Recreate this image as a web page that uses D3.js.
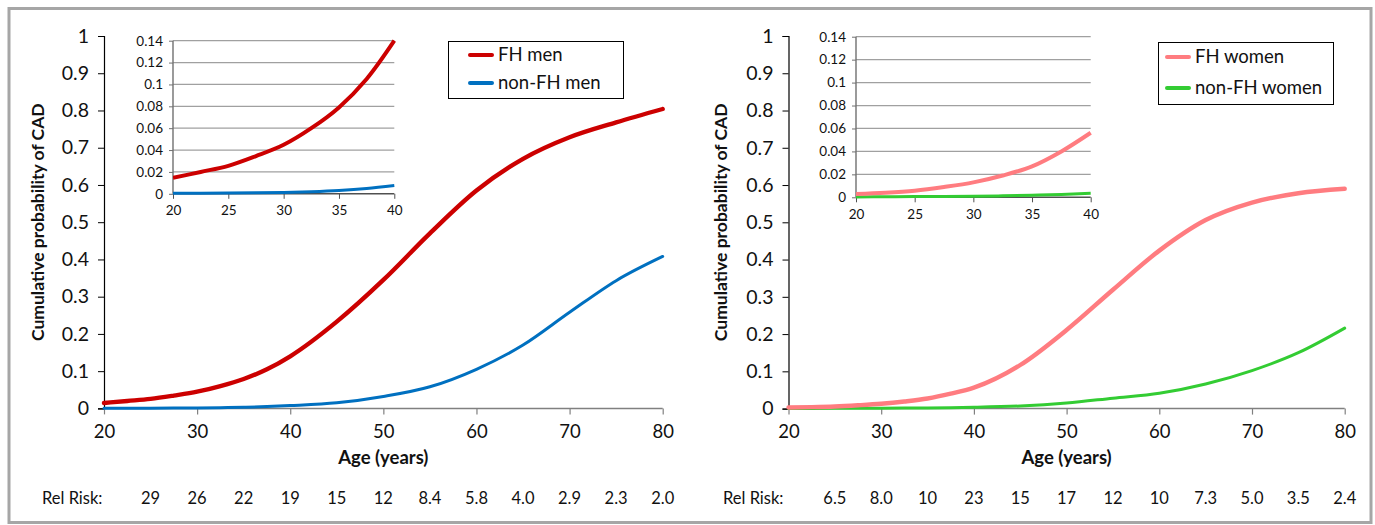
<!DOCTYPE html>
<html>
<head>
<meta charset="utf-8">
<script src="https://cdn.jsdelivr.net/npm/d3@7/dist/d3.min.js"></script>
<style>
  html, body { margin: 0; padding: 0; background: #fff; }
  svg { display: block; font-family: Lato, "Noto Sans", sans-serif; }
</style>
</head>
<body>
<svg id="chart" width="1375" height="525"></svg>
<script>
// ---------------- DATA ----------------
const ages = [20, 22.5, 25, 27.5, 30, 32.5, 35, 37.5, 40, 45, 50, 55, 60, 65, 70, 75, 80];
const fhMen     = [0.0146, 0.020, 0.0256, 0.0345, 0.0448, 0.060, 0.079, 0.105, 0.140, 0.233, 0.345, 0.470, 0.585, 0.670, 0.728, 0.768, 0.804];
const nonFhMen  = [0.0005, 0.0006, 0.0007, 0.0009, 0.0012, 0.0019, 0.0030, 0.0048, 0.0075, 0.015, 0.032, 0.058, 0.105, 0.170, 0.258, 0.343, 0.408];
const fhWomen   = [0.0029, 0.0040, 0.0058, 0.0090, 0.0130, 0.0190, 0.0270, 0.0400, 0.0563, 0.117, 0.211, 0.319, 0.424, 0.506, 0.553, 0.578, 0.590];
const nonFhWomen= [0.0003, 0.0005, 0.0007, 0.0008, 0.0010, 0.0013, 0.0018, 0.0025, 0.0035, 0.007, 0.015, 0.028, 0.041, 0.066, 0.102, 0.150, 0.216];

const relRiskAges  = [25, 30, 35, 40, 45, 50, 55, 60, 65, 70, 75, 80];
const relRiskMen   = ["29", "26", "22", "19", "15", "12", "8.4", "5.8", "4.0", "2.9", "2.3", "2.0"];
const relRiskWomen = ["6.5", "8.0", "10", "23", "15", "17", "12", "10", "7.3", "5.0", "3.5", "2.4"];

const mainXDomain = [20, 80];
const mainYDomain = [0, 1];
const insetXDomain = [20, 40];
const insetYDomain = [0, 0.14];
const mainXTicks = [20, 30, 40, 50, 60, 70, 80];
const insetXTicks = [20, 25, 30, 35, 40];

const seriesLabels = { men: ["FH men", "non-FH men"], women: ["FH women", "non-FH women"] };
const colors = { fhMen: "#CC0000", nonFhMen: "#0070C0", fhWomen: "#FF7C80", nonFhWomen: "#33CC33" };

const yTitle = "Cumulative probability of CAD";
const xTitle = "Age (years)";
const relRiskTitle = "Rel Risk:";

// ---------------- LAYOUT ----------------
const panels = [
  {
    id: "men",
    main: { x0: 104, x1: 662.7, y0: 408.4, y1: 36 },
    inset: { x0: 173, x1: 394.3, y0: 193.8, y1: 40.7 },
    legend: { x: 448, y: 41, w: 175, h: 57, rows: [61, 89], lineX: 470 },
    yTitleX: 40,
    relX: 42,
    series: [
      { values: fhMen, color: colors.fhMen, width: 4.4, insetWidth: 4, label: seriesLabels.men[0] },
      { values: nonFhMen, color: colors.nonFhMen, width: 3, insetWidth: 3, label: seriesLabels.men[1] }
    ],
    rel: relRiskMen
  },
  {
    id: "women",
    main: { x0: 788.5, x1: 1344.7, y0: 408.6, y1: 36 },
    inset: { x0: 856, x1: 1090.7, y0: 197.3, y1: 36.7 },
    legend: { x: 1158, y: 42, w: 175, h: 62, rows: [63, 94], lineX: 1167 },
    yTitleX: 723,
    relX: 723,
    series: [
      { values: fhWomen, color: colors.fhWomen, width: 4.4, insetWidth: 4, label: seriesLabels.women[0] },
      { values: nonFhWomen, color: colors.nonFhWomen, width: 3, insetWidth: 3, label: seriesLabels.women[1] }
    ],
    rel: relRiskWomen
  }
];

const svg = d3.select("#chart");

// Outer frame
svg.append("rect")
  .attr("x", 9).attr("y", 8.5).attr("width", 1362).attr("height", 514)
  .attr("fill", "none").attr("stroke", "#a6a6a6").attr("stroke-width", 3);

const curve = d3.curveMonotoneX;

panels.forEach(p => {
  const g = svg.append("g");
  const x = d3.scaleLinear().domain(mainXDomain).range([p.main.x0, p.main.x1]);
  const y = d3.scaleLinear().domain(mainYDomain).range([p.main.y0, p.main.y1]);

  // Main y axis
  const yAxis = g.append("g")
    .attr("transform", `translate(${p.main.x0},0)`)
    .call(d3.axisLeft(y).ticks(10).tickSize(6).tickPadding(9).tickFormat(d3.format("~g")));
  yAxis.select(".domain").attr("stroke", "#000").attr("stroke-width", 1.2);
  yAxis.selectAll(".tick line").attr("stroke", "#000");
  yAxis.selectAll(".tick text").attr("font-size", 19.5).attr("fill", "#111").attr("font-family", "Lato");

  // Main x axis
  const xAxis = g.append("g")
    .attr("transform", `translate(0,${p.main.y0})`)
    .call(d3.axisBottom(x).tickValues(mainXTicks).tickSize(6).tickPadding(10).tickFormat(d3.format("d")));
  xAxis.select(".domain").attr("stroke", "#808080").attr("stroke-width", 1.5).attr("d", `M${p.main.x0},0H${p.main.x1}`);
  xAxis.selectAll(".tick line").attr("stroke", "#808080").attr("stroke-width", 1.2);
  xAxis.selectAll(".tick text").attr("font-size", 18.5).attr("fill", "#111").attr("font-family", "Lato");

  // Titles
  g.append("text")
    .attr("transform", `translate(${p.yTitleX},${(p.main.y0 + p.main.y1) / 2}) rotate(-90)`)
    .attr("text-anchor", "middle").attr("dominant-baseline", "middle")
    .attr("font-size", 17.5).attr("font-weight", "bold").attr("fill", "#111")
    .text(yTitle);
  g.append("text")
    .attr("x", (p.main.x0 + p.main.x1) / 2).attr("y", 464)
    .attr("text-anchor", "middle")
    .attr("font-size", 18.5).attr("font-weight", "bold").attr("fill", "#111")
    .text(xTitle);

  // Main lines
  const line = d3.line().x((d, i) => x(ages[i])).y(d => y(d)).curve(curve);
  p.series.slice().reverse().forEach(s => {
    g.append("path").datum(s.values)
      .attr("d", line).attr("fill", "none")
      .attr("stroke", s.color).attr("stroke-width", s.width)
      .attr("stroke-linecap", "round").attr("stroke-linejoin", "round");
  });

  // Inset
  const ix = d3.scaleLinear().domain(insetXDomain).range([p.inset.x0, p.inset.x1]);
  const iy = d3.scaleLinear().domain(insetYDomain).range([p.inset.y0, p.inset.y1]);
  const ig = g.append("g");
  const gridTicks = iy.ticks(7);
  ig.selectAll("line.grid").data(gridTicks.filter(t => t > 0)).join("line")
    .attr("x1", p.inset.x0).attr("x2", p.inset.x1)
    .attr("y1", d => iy(d)).attr("y2", d => iy(d))
    .attr("stroke", "#a0a0a0").attr("stroke-width", 1.2);

  const iyAxis = ig.append("g")
    .attr("transform", `translate(${p.inset.x0},0)`)
    .call(d3.axisLeft(iy).tickValues(gridTicks).tickSize(4).tickPadding(6).tickFormat(d3.format("~g")));
  iyAxis.select(".domain").attr("stroke", "#707070").attr("stroke-width", 1.4).attr("d", `M0,${p.inset.y0}V${p.inset.y1}`);
  iyAxis.selectAll(".tick line").attr("stroke", "#707070");
  iyAxis.selectAll(".tick text").attr("font-size", 13.5).attr("fill", "#111").attr("font-family", "Lato");

  const ixAxis = ig.append("g")
    .attr("transform", `translate(0,${p.inset.y0})`)
    .call(d3.axisBottom(ix).tickValues(insetXTicks).tickSize(5).tickPadding(7).tickFormat(d3.format("d")));
  ixAxis.select(".domain").attr("stroke", "#505050").attr("stroke-width", 1.4).attr("d", `M${p.inset.x0},0H${p.inset.x1}`);
  ixAxis.selectAll(".tick line").attr("stroke", "#505050");
  ixAxis.selectAll(".tick text").attr("font-size", 13.5).attr("fill", "#111").attr("font-family", "Lato");

  const clipId = "clip-" + p.id;
  svg.append("clipPath").attr("id", clipId).append("rect")
    .attr("x", p.inset.x0).attr("y", p.inset.y1 - 2)
    .attr("width", p.inset.x1 - p.inset.x0 + 2).attr("height", p.inset.y0 - p.inset.y1 + 4);

  const nIn = ages.filter(a => a <= insetXDomain[1]).length;
  const iline = d3.line().x((d, i) => ix(ages[i])).y(d => iy(d)).curve(d3.curveCatmullRom.alpha(0.5));
  p.series.slice().reverse().forEach(s => {
    ig.append("path").datum(s.values.slice(0, nIn))
      .attr("clip-path", `url(#${clipId})`)
      .attr("d", iline).attr("fill", "none")
      .attr("stroke", s.color).attr("stroke-width", s.insetWidth);
  });

  // Legend
  const lg = g.append("g");
  lg.append("rect")
    .attr("x", p.legend.x + 0.5).attr("y", p.legend.y + 0.5)
    .attr("width", p.legend.w).attr("height", p.legend.h)
    .attr("fill", "#fff").attr("stroke", "#000").attr("stroke-width", 1);
  p.series.forEach((s, i) => {
    const ry = p.legend.rows[i];
    lg.append("line")
      .attr("x1", p.legend.lineX).attr("x2", p.legend.lineX + 22)
      .attr("y1", ry - 6).attr("y2", ry - 6)
      .attr("stroke", s.color).attr("stroke-width", 4).attr("stroke-linecap", "round");
    lg.append("text")
      .attr("x", p.legend.lineX + 28).attr("y", ry)
      .attr("font-size", 18.5).attr("fill", "#111")
      .text(s.label);
  });

  // Rel Risk row
  g.append("text")
    .attr("x", p.relX).attr("y", 504)
    .attr("font-size", 16.5).attr("fill", "#111")
    .text(relRiskTitle);
  g.selectAll("text.rel").data(p.rel).join("text")
    .attr("class", "rel")
    .attr("x", (d, i) => x(relRiskAges[i])).attr("y", 504)
    .attr("text-anchor", "middle")
    .attr("font-size", 16.5).attr("fill", "#111")
    .text(d => d);
});
</script>
</body>
</html>
